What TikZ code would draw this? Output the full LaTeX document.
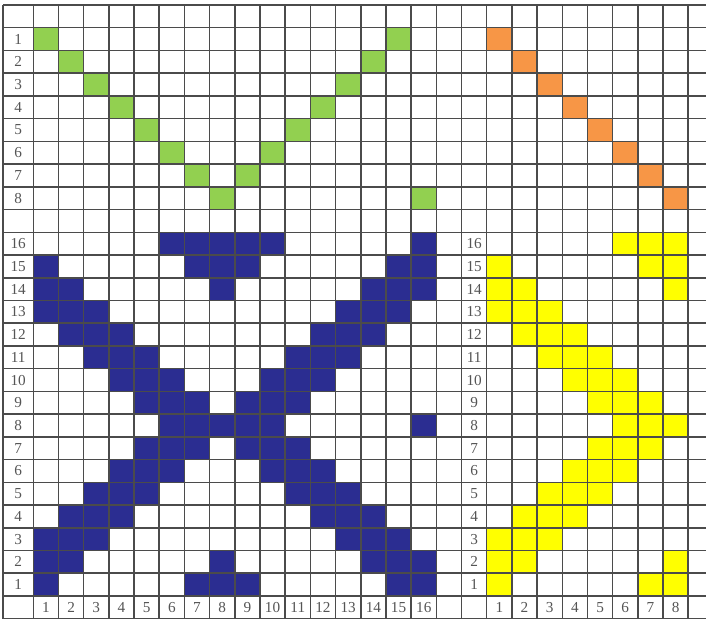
\documentclass[tikz,border=0pt]{standalone}
\usepackage{fontspec}
\setmainfont{Liberation Serif}
\definecolor{grass}{RGB}{146,208,80}
\definecolor{pumpkin}{RGB}{247,150,70}
\definecolor{indigo}{RGB}{43,45,145}
\definecolor{lemon}{RGB}{255,255,0}
\definecolor{pencil}{RGB}{55,55,55}
\tikzset{
  cell/.style={fill=#1},
  cell/.default=indigo,
  gridline/.style={draw=pencil!90,line width=1.3pt},
  num/.style={font=\fontsize{13}{15}\selectfont,text=pencil!85,inner sep=0pt},
}

\begin{document}
\begin{tikzpicture}[x=7.557mm,y=-6.819mm]
  \useasboundingbox (-1.322,-0.22) rectangle (26.705,26.97);
  % top block: V and diagonal
  \foreach \r/\a/\b in {1/1/15,2/2/14,3/3/13,4/4/12,5/5/11,6/6/10,7/7/9,8/8/16} {
    \fill[cell=grass] (\a-1,\r) rectangle ++(1,1);
    \fill[cell=grass] (\b-1,\r) rectangle ++(1,1);
    \fill[cell=pumpkin] (17+\r,\r) rectangle ++(1,1);
  }
  % blue X
  \foreach \r/\cols in {16/{6,7,8,9,10,16},15/{1,7,8,9,15,16},14/{1,2,8,14,15,16},
      13/{1,2,3,13,14,15},12/{2,3,4,12,13,14},11/{3,4,5,11,12,13},10/{4,5,6,10,11,12},
      9/{5,6,7,9,10,11},8/{6,7,8,9,10,16},7/{5,6,7,9,10,11},6/{4,5,6,10,11,12},
      5/{3,4,5,11,12,13},4/{2,3,4,12,13,14},3/{1,2,3,13,14,15},2/{1,2,8,14,15,16},1/{1,7,8,9,15,16}}
    \foreach \c in \cols
      \fill[cell] (\c-1,26-\r) rectangle ++(1,1);
  % yellow shape
  \foreach \r/\cols in {16/{6,7,8},15/{1,7,8},14/{1,2,8},13/{1,2,3},12/{2,3,4},11/{3,4,5},
      10/{4,5,6},9/{5,6,7},8/{6,7,8},7/{5,6,7},6/{4,5,6},5/{3,4,5},4/{2,3,4},3/{1,2,3},
      2/{1,2,8},1/{1,7,8}}
    \foreach \c in \cols
      \fill[cell=lemon] (17+\c,26-\r) rectangle ++(1,1);
  % grid
  \foreach \y in {0,...,27} \draw[gridline] (-1.2,\y) -- (27,\y);
  \draw[gridline] (-1.2,0) -- (-1.2,27);
  \foreach \x in {0,...,27} \draw[gridline] (\x,0) -- (\x,27);
  % numbers
  \foreach \r in {1,...,8} \node[num] (top\r) at (-0.6,\r+0.5) {\r};
  \foreach \r in {1,...,16} {
    \node[num] (left\r) at (-0.6,26.5-\r) {\r};
    \node[num] (mid\r) at (17.5,26.5-\r) {\r};
    \node[num] (foot\r) at (\r-0.5,26.5) {\r};
  }
  \foreach \c in {1,...,8} \node[num] (yfoot\c) at (17.5+\c,26.5) {\c};
\end{tikzpicture}
\end{document}
